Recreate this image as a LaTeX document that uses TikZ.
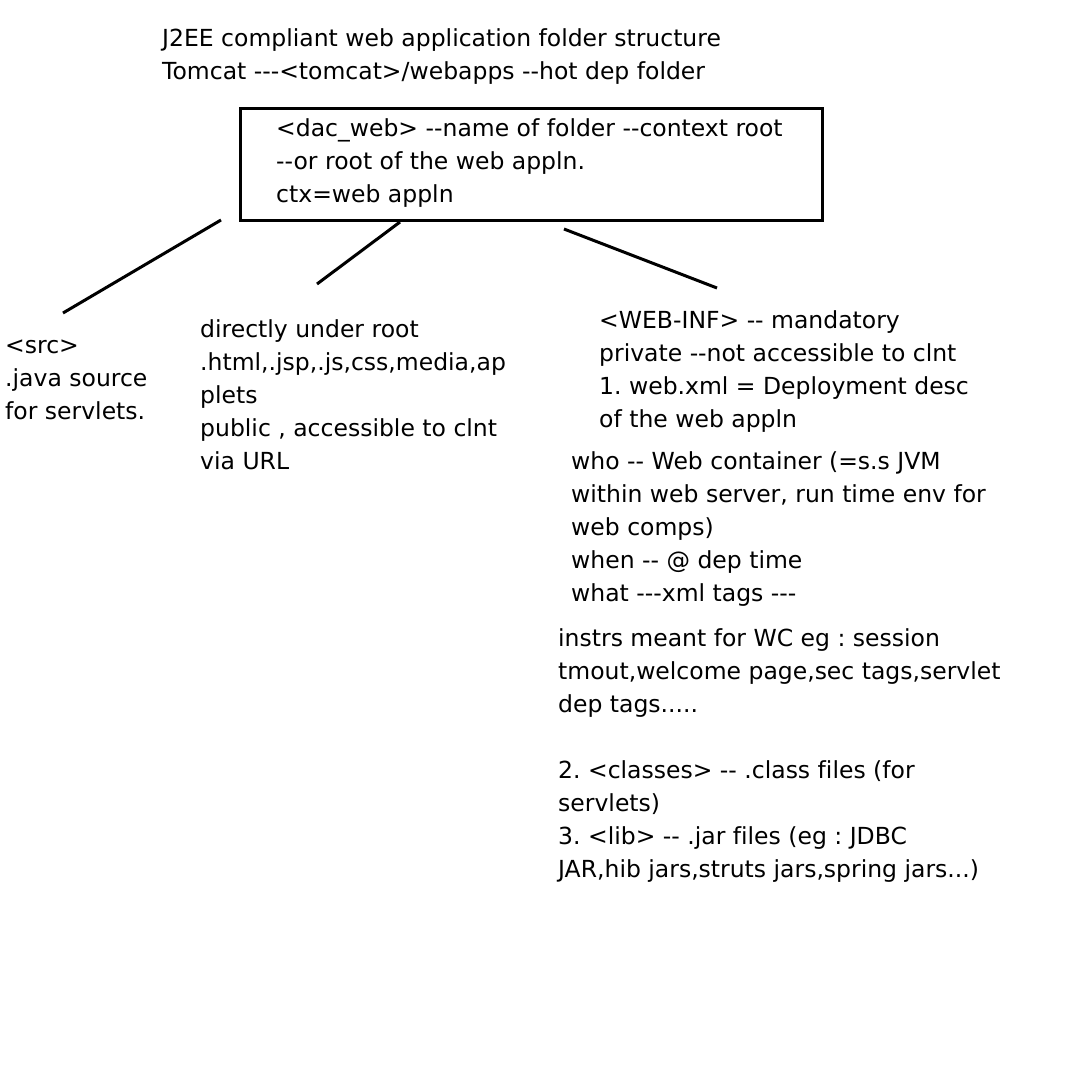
\documentclass[tikz,border=0pt]{standalone}
\usepackage{fontspec}
\setmainfont[Ligatures={TeXOff,NoCommon}]{DejaVu Sans}
\frenchspacing

\begin{document}
\begin{tikzpicture}[x=1pt, y=-1pt,
		txt/.style={anchor=base west, inner sep=0pt, align=left, font=\fontsize{23.5}{33}\selectfont},
		link/.style={line width=3pt}]
		\useasboundingbox[fill=white] (0,0) rectangle (1074,1074);
		% heading (nodes sit on the baseline of their last line)
		\node[txt] (title) at (162,79) {J2EE compliant web application folder structure\\Tomcat ---<tomcat>/webapps --hot dep folder};
		% context root
		\node[draw, line width=3pt, anchor=north west, minimum width=582, minimum height=112] (root) at (239,107) {};
		\node[txt] (rootlbl) at (276,202) {<dac\_web> --name of folder --context root\\--or root of the web appln.\\ctx=web appln};
		% branches
		\node[txt] (src) at (5,419) {<src>\\.java source\\for servlets.};
		\node[txt] (pub) at (200,469) {directly under root\\.html,.jsp,.js,css,media,ap\\plets\\public , accessible to clnt\\via URL};
		\node[txt] (webinf) at (599,427) {<WEB-INF> -- mandatory\\private --not accessible to clnt\\1. web.xml = Deployment desc\\of the web appln};
		\node[txt] (who) at (571,601) {who -- Web container (=s.s JVM\\within web server, run time env for\\web comps)\\when -- @ dep time\\what ---xml tags ---};
		\node[txt] (instr) at (558,877) {instrs meant for WC eg : session\\tmout,welcome page,sec tags,servlet\\dep tags.....\\[33pt]2. <classes> -- .class files (for\\servlets)\\3. <lib> -- .jar files (eg : JDBC\\JAR,hib jars,struts jars,spring jars...)};
		% connectors
		\coordinate (srcA) at (221,220);
		\coordinate (srcB) at (63,313);
		\coordinate (pubA) at (400,222);
		\coordinate (pubB) at (317,284);
		\coordinate (infA) at (564,229);
		\coordinate (infB) at (717,288);
		\draw[link] (srcA) -- (srcB);
		\draw[link] (pubA) -- (pubB);
		\draw[link] (infA) -- (infB);
	\end{tikzpicture}
\end{document}
